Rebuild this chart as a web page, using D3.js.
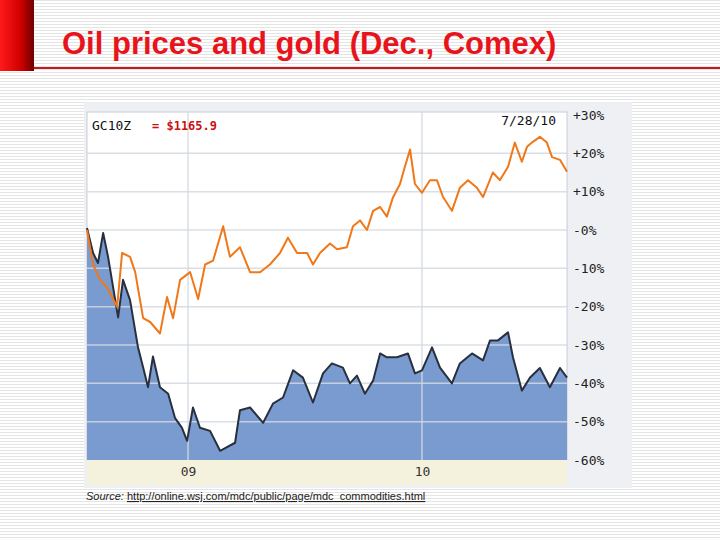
<!DOCTYPE html>
<html><head><meta charset="utf-8">
<script src="https://cdn.jsdelivr.net/npm/d3@7"></script>
<style>body{margin:0;background:#fff}svg{display:block}</style>
</head><body>
<svg id="c" width="720" height="540"></svg>
<script>
// ---- data (decimal years, % change) ----
const goldDates=[2008.568,2008.594,2008.624,2008.654,2008.697,2008.718,2008.752,2008.774,2008.808,2008.838,2008.880,2008.910,2008.936,2008.966,2009.009,2009.043,2009.073,2009.107,2009.150,2009.179,2009.222,2009.265,2009.308,2009.350,2009.393,2009.427,2009.466,2009.509,2009.534,2009.564,2009.607,2009.637,2009.679,2009.705,2009.735,2009.765,2009.791,2009.821,2009.850,2009.876,2009.906,2009.927,2009.949,2009.970,2010.000,2010.034,2010.064,2010.090,2010.128,2010.162,2010.197,2010.235,2010.261,2010.303,2010.333,2010.368,2010.397,2010.427,2010.449,2010.474,2010.504,2010.534,2010.556,2010.590,2010.620];
const goldPct=[0,-9,-13,-15,-20,-6,-7,-11,-23,-24,-27,-17.5,-23,-13,-11,-18,-9,-8,1,-7,-4.5,-11,-11,-9,-6,-2,-6,-6,-9,-6,-3.5,-5,-4.5,1,2.5,0,5,6,3.5,8.5,12,16.5,21,12,9.7,13,13,8.6,5,11,13,11,8.6,15,13,16.5,22.8,17.8,21.7,23,24.3,22.8,19,18.3,15.2];
const oilDates=[2008.568,2008.594,2008.615,2008.637,2008.658,2008.701,2008.722,2008.752,2008.786,2008.808,2008.829,2008.850,2008.880,2008.915,2008.944,2008.974,2008.996,2009.021,2009.051,2009.094,2009.137,2009.201,2009.222,2009.265,2009.321,2009.363,2009.406,2009.449,2009.491,2009.534,2009.577,2009.615,2009.662,2009.692,2009.722,2009.756,2009.791,2009.821,2009.850,2009.893,2009.940,2009.970,2010.000,2010.043,2010.077,2010.128,2010.162,2010.214,2010.261,2010.291,2010.325,2010.368,2010.389,2010.427,2010.462,2010.504,2010.547,2010.590,2010.620];
const oilPct=[0.5,-6,-8.6,-0.8,-7,-22.8,-13,-18.3,-30.6,-35.9,-41,-33,-41,-42.7,-49,-51.6,-55,-46.3,-51.6,-52.4,-57.6,-55.5,-47,-46.3,-50.3,-45.3,-43.7,-36.6,-38.5,-45,-37.4,-34.8,-35.9,-40,-38,-42.7,-39.3,-32.2,-33.2,-33.2,-32.2,-37.4,-36.6,-30.6,-35.9,-40,-34.8,-32.2,-34,-28.8,-28.8,-26.7,-33.2,-41.9,-38.5,-36,-41,-36,-38.5];
const yTicks=[30,20,10,0,-10,-20,-30,-40,-50,-60];
const yTickLabels=["+30%","+20%","+10%","-0%","-10%","-20%","-30%","-40%","-50%","-60%"];
const xTicks=[2009,2010];
const xTickLabels=["09","10"];
const title="Oil prices and gold (Dec., Comex)";

const svg=d3.select("#c");
const defs=svg.append("defs");
const pat=defs.append("pattern").attr("id","stripes").attr("width",4).attr("height",3).attr("patternUnits","userSpaceOnUse");
pat.append("rect").attr("width",4).attr("height",3).attr("fill","#fff");
pat.append("rect").attr("width",4).attr("height",1).attr("fill","#e4e4e4");
svg.append("rect").attr("width",720).attr("height",540).attr("fill","url(#stripes)");
const rg=defs.append("linearGradient").attr("id","redg");
rg.append("stop").attr("offset","0").attr("stop-color","#ff1a1a");
rg.append("stop").attr("offset","0.6").attr("stop-color","#d00000");
rg.append("stop").attr("offset","1").attr("stop-color","#700000");
svg.append("rect").attr("x",0).attr("y",0).attr("width",34).attr("height",71).attr("fill","url(#redg)");
svg.append("rect").attr("x",34).attr("y",67).attr("width",686).attr("height",2).attr("fill","#c81818");
svg.append("text").attr("x",62).attr("y",54).attr("font-family","Liberation Sans, Arial").attr("font-weight","bold")
 .attr("font-size",31).attr("fill","#e8141c").text(title);

svg.append("rect").attr("x",84).attr("y",102).attr("width",548).attr("height",386).attr("fill","#eef0f4");
const L=87,R=567,T=115,B=460;
svg.append("rect").attr("x",L).attr("y",112).attr("width",R-L).attr("height",B-112).attr("fill","#fff").attr("stroke","#c8ccd4");
svg.append("rect").attr("x",L).attr("y",B).attr("width",R-L).attr("height",25).attr("fill","#f4f2dc");

const x=d3.scaleLinear().domain([2008.568,2010.62]).range([L,R]);
const y=d3.scaleLinear().domain([-60,30]).range([B,T]);

const oil=oilDates.map((d,i)=>[d,oilPct[i]]);
const gold=goldDates.map((d,i)=>[d,goldPct[i]]);

svg.append("path").datum(oil).attr("fill","#7a9bd0")
 .attr("d",d3.area().x(d=>x(d[0])).y0(B).y1(d=>y(d[1])));

const g=svg.append("g");
g.selectAll(".h").data(yTicks.filter(v=>v<30&&v>-60)).join("line")
 .attr("x1",L).attr("x2",R).attr("y1",d=>y(d)).attr("y2",d=>y(d))
 .attr("stroke","#d4d8e0").attr("stroke-opacity",0.85).attr("stroke-width",1.5);
g.selectAll(".v").data(xTicks).join("line")
 .attr("x1",d=>x(d)).attr("x2",d=>x(d)).attr("y1",112).attr("y2",B)
 .attr("stroke","#d4d8e0").attr("stroke-opacity",0.85).attr("stroke-width",1.5);

svg.append("path").datum(oil).attr("fill","none").attr("stroke","#27303c").attr("stroke-width",2)
 .attr("stroke-linejoin","round").attr("d",d3.line().x(d=>x(d[0])).y(d=>y(d[1])));
svg.append("path").datum(gold).attr("fill","none").attr("stroke","#f07818").attr("stroke-width",2)
 .attr("stroke-linejoin","round").attr("d",d3.line().x(d=>x(d[0])).y(d=>y(d[1])));

const mono="DejaVu Sans Mono, monospace";
const ax=svg.append("g").attr("transform",`translate(${R+6},0)`)
 .call(d3.axisRight(y).tickValues(yTicks).tickSize(0).tickFormat((d,i)=>yTickLabels[i]));
ax.select(".domain").remove();
ax.selectAll("text").attr("font-family",mono).attr("font-size",13).attr("fill","#222").attr("x",0);
const bx=svg.append("g").attr("transform",`translate(0,${B})`)
 .call(d3.axisBottom(x).tickValues(xTicks).tickSize(0).tickFormat((d,i)=>xTickLabels[i]));
bx.select(".domain").remove();
bx.selectAll("text").attr("font-family",mono).attr("font-size",13).attr("fill","#333").attr("dy","1em");

svg.append("text").attr("x",92).attr("y",130).attr("font-family",mono).attr("font-size",13).attr("fill","#111").text("GC10Z");
svg.append("text").attr("x",152).attr("y",130).attr("font-family",mono).attr("font-weight","bold").attr("font-size",12).attr("fill","#cc1010").text("= $1165.9");
svg.append("text").attr("x",556).attr("y",125).attr("text-anchor","end").attr("font-family",mono).attr("font-size",13).attr("fill","#111").text("7/28/10");

const s=svg.append("text").attr("x",86).attr("y",500).attr("font-family","Liberation Sans, Arial").attr("font-size",11).attr("fill","#222");
s.append("tspan").attr("font-style","italic").text("Source: ");
s.append("tspan").attr("text-decoration","underline").text("http://online.wsj.com/mdc/public/page/mdc_commodities.html");
</script></body></html>
